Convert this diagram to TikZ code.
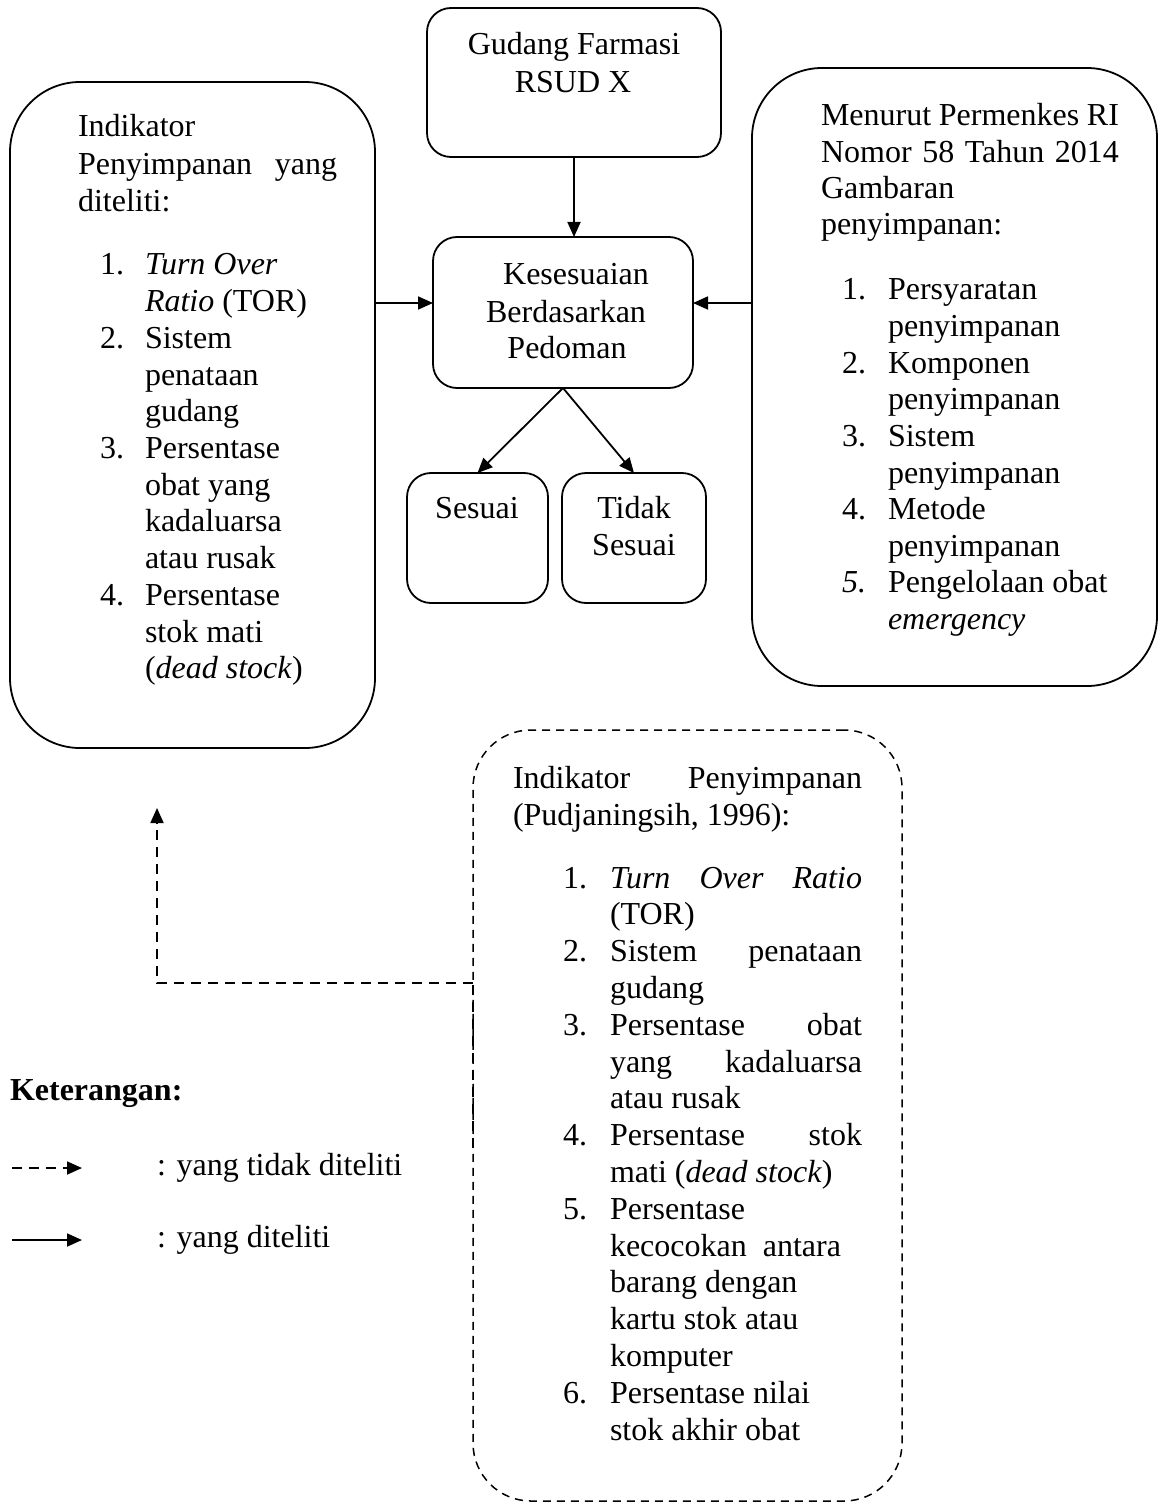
\documentclass[tikz,border=0pt]{standalone}
\usepackage{fontspec}
\setmainfont{Liberation Serif}
\usetikzlibrary{arrows.meta}
\newcommand\TL[5][base west]{\node[txt,anchor=#1] (#2) at (#3,#4) {#5};}
\tikzset{
  txt/.style={inner sep=0pt, outer sep=0pt, font=\fontsize{32}{36.7}\selectfont},
  rbox/.style={draw, line width=1.8pt, inner sep=0pt, outer sep=0pt},
  dbox/.style={draw, line width=1.5pt, dash pattern=on 8pt off 6pt, inner sep=0pt, outer sep=0pt},
  arrowline/.style={line width=1.8pt, -{Triangle[length=15pt,width=13pt]}},
  dashconn/.style={line width=1.8pt, dash pattern=on 10pt off 7pt},
  dasharrow/.style={line width=1.8pt, dash pattern=on 10pt off 7pt, -{Triangle[length=15pt,width=13pt]}}
}
\begin{document}
\begin{tikzpicture}[x=1pt,y=-1pt]
\useasboundingbox (0,0) rectangle (1160,1503);
\fill[white] (0,0) rectangle (1160,1503);

% boxes
\node[rbox, rounded corners=24pt, minimum width=294pt, minimum height=149pt] (gud) at (574,82.5) {};
\node[rbox, rounded corners=24pt, minimum width=260pt, minimum height=151pt] (kes) at (563,312.5) {};
\node[rbox, rounded corners=24pt, minimum width=141pt, minimum height=130pt] (ses) at (477.5,538) {};
\node[rbox, rounded corners=24pt, minimum width=144pt, minimum height=130pt] (tid) at (634,538) {};
\node[rbox, rounded corners=70pt, minimum width=365pt, minimum height=666pt] (lbox) at (192.5,415) {};
\node[rbox, rounded corners=70pt, minimum width=405pt, minimum height=618pt] (rbx) at (954.5,377) {};
\node[dbox, rounded corners=58pt, minimum width=429pt, minimum height=771pt] (dbx) at (687.5,1115.5) {};

% texts: Gudang
\TL[base]{g1}{574}{55}{Gudang Farmasi}
\TL[base]{g2}{573}{93}{RSUD X}
% Kesesuaian
\TL[base]{kt1}{576}{285}{Kesesuaian}
\TL[base]{kt2}{566}{322}{Berdasarkan}
\TL[base]{kt3}{567}{358}{Pedoman}
% Sesuai / Tidak Sesuai
\TL[base]{s1}{477}{518}{Sesuai}
\TL[base]{ts1}{634}{518}{Tidak}
\TL[base]{ts2}{634}{555}{Sesuai}

% left box
\TL{l1}{78}{137}{Indikator}
\TL{l2}{78}{175}{\makebox[259pt][s]{Penyimpanan yang}}
\TL{l3}{78}{212}{diteliti:}
\TL{ln1}{100}{275}{1.}
\TL{la}{145}{275}{\textit{Turn Over}}
\TL{lb}{145}{311.7}{\textit{Ratio} (TOR)}
\TL{ln2}{100}{348.4}{2.}
\TL{lc}{145}{348.4}{Sistem}
\TL{ld}{145}{385.1}{penataan}
\TL{le}{145}{421.8}{gudang}
\TL{ln3}{100}{458.5}{3.}
\TL{lf}{145}{458.5}{Persentase}
\TL{lg}{145}{495.2}{obat yang}
\TL{lh}{145}{531.9}{kadaluarsa}
\TL{li}{145}{568.6}{atau rusak}
\TL{ln4}{100}{605.3}{4.}
\TL{lj}{145}{605.3}{Persentase}
\TL{lk}{145}{642}{stok mati}
\TL{ll}{145}{678.7}{(\textit{dead stock})}

% right box
\TL{r1}{821}{126}{\makebox[298pt][s]{Menurut Permenkes RI}}
\TL{r2}{821}{163}{\makebox[298pt][s]{Nomor 58 Tahun 2014}}
\TL{r3}{821}{199}{Gambaran}
\TL{r4}{821}{235}{penyimpanan:}
\TL{rn1}{842}{300}{1.}
\TL{ra}{888}{300}{Persyaratan}
\TL{rb}{888}{336.6}{penyimpanan}
\TL{rn2}{842}{373.2}{2.}
\TL{rc}{888}{373.2}{Komponen}
\TL{rd}{888}{409.8}{penyimpanan}
\TL{rn3}{842}{446.4}{3.}
\TL{re}{888}{446.4}{Sistem}
\TL{rf}{888}{483}{penyimpanan}
\TL{rn4}{842}{519.6}{4.}
\TL{rg}{888}{519.6}{Metode}
\TL{rh}{888}{556.2}{penyimpanan}
\TL{rn5}{842}{592.8}{\textit{5.}}
\TL{ri}{888}{592.8}{Pengelolaan obat}
\TL{rj}{888}{629.4}{\textit{emergency}}

% dashed box
\TL{d1}{513}{788}{\makebox[349pt][s]{Indikator Penyimpanan}}
\TL{d2}{513}{825}{(Pudjaningsih, 1996):}
\TL{dn1}{563}{888}{1.}
\TL{da}{610}{888}{\makebox[252pt][s]{\textit{Turn Over Ratio}}}
\TL{db}{610}{924.8}{(TOR)}
\TL{dn2}{563}{961.6}{2.}
\TL{dc}{610}{961.6}{\makebox[252pt][s]{Sistem penataan}}
\TL{dd}{610}{998.4}{gudang}
\TL{dn3}{563}{1035.2}{3.}
\TL{de}{610}{1035.2}{\makebox[252pt][s]{Persentase obat}}
\TL{df}{610}{1072}{\makebox[252pt][s]{yang kadaluarsa}}
\TL{dg}{610}{1108.8}{atau rusak}
\TL{dn4}{563}{1145.6}{4.}
\TL{dh}{610}{1145.6}{\makebox[252pt][s]{Persentase stok}}
\TL{di}{610}{1182.4}{mati (\textit{dead stock})}
\TL{dn5}{563}{1219.2}{5.}
\TL{dj}{610}{1219.2}{Persentase}
\TL{dk}{610}{1256}{kecocokan\ \ antara}
\TL{dl}{610}{1292.8}{barang dengan}
\TL{dm}{610}{1329.6}{kartu stok atau}
\TL{do}{610}{1366.4}{komputer}
\TL{dn6}{563}{1403.2}{6.}
\TL{dp}{610}{1403.2}{Persentase nilai}
\TL{dq}{610}{1440}{stok akhir obat}

% legend
\TL{leg0}{10}{1100}{\textbf{Keterangan:}}
\TL{leg1}{157}{1175}{: yang tidak diteliti}
\TL{leg2}{157}{1247}{: yang diteliti}
\coordinate (lg1a) at (12,1168);
\coordinate (lg1b) at (82,1168);
\coordinate (lg2a) at (12,1240);
\coordinate (lg2b) at (82,1240);
\draw[dasharrow] (lg1a) -- (lg1b);
\draw[arrowline] (lg2a) -- (lg2b);

% connectors
\coordinate (ay) at (0,303);
\draw[arrowline] (gud.south) -- (gud.south |- kes.north);
\draw[arrowline] (lbox.east |- ay) -- (kes.west |- ay);
\draw[arrowline] (rbx.west |- ay) -- (kes.east |- ay);
\draw[arrowline] (kes.south) -- (ses.north);
\draw[arrowline] (kes.south) -- (tid.north);

\coordinate (dlow) at (0,1148);
\coordinate (dturn) at (0,983);
\coordinate (dcorner) at (157,983);
\coordinate (dend) at (157,808);
\draw[dashconn] (dbx.west |- dlow) -- (dbx.west |- dturn);
\draw[dasharrow] (dbx.west |- dturn) -- (dcorner) -- (dend);
\end{tikzpicture}
\end{document}
